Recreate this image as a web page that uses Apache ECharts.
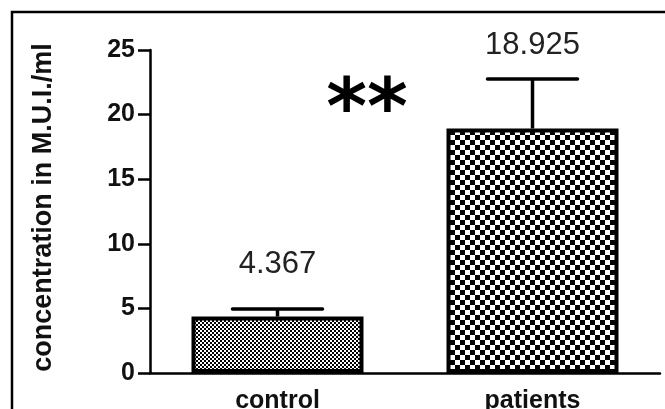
<!DOCTYPE html>
<html>
<head>
<meta charset="utf-8">
<script src="https://cdn.jsdelivr.net/npm/echarts@6/dist/echarts.min.js"></script>
<style>
html,body{margin:0;padding:0;background:#fff;}
#chart{width:665px;height:409px;}
</style>
</head>
<body>
<div id="chart"></div>
<script>
// ---- data ----
const categories = ['control', 'patients'];
const means = [4.367, 18.925];
const errors = [0.58, 3.83];
const valueLabels = ['4.367', '18.925'];
const yTicks = [0, 5, 10, 15, 20, 25];
const yTitle = 'concentration in M.U.I./ml';
const significance = '**';

function makePattern(cell, period) {
  const c = document.createElement('canvas');
  c.width = period; c.height = period;
  const g = c.getContext('2d');
  g.fillStyle = '#ffffff';
  g.fillRect(0, 0, period, period);
  g.fillStyle = '#000000';
  g.fillRect(0, 0, cell, cell);
  g.fillRect(cell, cell, cell, cell);
  return c;
}
const fineTile = makePattern(2, 4);
const coarseTile = makePattern(5, 10);
const patterns = [fineTile, coarseTile];

const FONT = "'Liberation Sans', Arial, sans-serif";
const chart = echarts.init(document.getElementById('chart'), null, {renderer: 'canvas'});

const barData = means.map((v, i) => ({
  value: v,
  itemStyle: {color: {image: patterns[i], repeat: 'repeat'}},
  label: {distance: i === 0 ? 37 : 68, formatter: valueLabels[i]}
}));

const errData = means.map((v, i) => [i, v, v + errors[i]]);

chart.setOption({
  animation: false,
  grid: {left: 150, right: 5, top: 50, bottom: 36, containLabel: false, outerBoundsMode: 'none'},
  xAxis: {
    type: 'category',
    data: categories,
    axisLine: {lineStyle: {color: '#000', width: 2.5}},
    axisTick: {alignWithLabel: true, length: 8, lineStyle: {color: '#000', width: 2.5}},
    axisLabel: {color: '#111', fontFamily: FONT, fontWeight: 'bold', fontSize: 25, margin: 16}
  },
  yAxis: {
    type: 'value',
    min: 0, max: 25, interval: 5,
    name: yTitle,
    nameLocation: 'middle',
    nameRotate: 90,
    nameGap: 93,
    nameTextStyle: {color: '#111', fontFamily: FONT, fontWeight: 'bold', fontSize: 27, padding: [0, 0, 0, 8]},
    axisLine: {show: true, lineStyle: {color: '#000', width: 2.5}},
    axisTick: {show: true, length: 12, lineStyle: {color: '#000', width: 2.5}},
    splitLine: {show: false},
    axisLabel: {color: '#111', fontFamily: FONT, fontWeight: 'bold', fontSize: 25, margin: 15,
      formatter: v => yTicks.includes(v) ? String(v) : ''}
  },
  series: [
    {
      type: 'bar',
      data: barData,
      barWidth: 172,
      itemStyle: {borderColor: '#000', borderWidth: 4},
      label: {show: true, position: 'top', color: '#222', fontFamily: FONT, fontSize: 31}
    },
    {
      type: 'custom',
      data: errData,
      z: 3,
      renderItem: function (params, api) {
        const x = api.coord([api.value(0), api.value(1)])[0];
        const yMean = api.coord([api.value(0), api.value(1)])[1];
        const yTop = api.coord([api.value(0), api.value(2)])[1];
        const half = 45;
        return {
          type: 'group',
          children: [
            {type: 'line', shape: {x1: x, y1: yMean, x2: x, y2: yTop}, style: {stroke: '#000', lineWidth: 3.5}},
            {type: 'line', shape: {x1: x - half, y1: yTop, x2: x + half, y2: yTop}, style: {stroke: '#000', lineWidth: 3.5, lineCap: 'round'}}
          ]
        };
      }
    }
  ],
  graphic: [
    {type: 'rect', shape: {x: 12, y: 12, width: 700, height: 450}, style: {fill: 'none', stroke: '#000', lineWidth: 2.5}, silent: true},
    {type: 'text', x: 367, y: 114, style: {text: significance, font: "bold 78px 'DejaVu Sans', sans-serif", fill: '#000', textAlign: 'center', textVerticalAlign: 'middle'}}
  ]
});
</script>
</body>
</html>
